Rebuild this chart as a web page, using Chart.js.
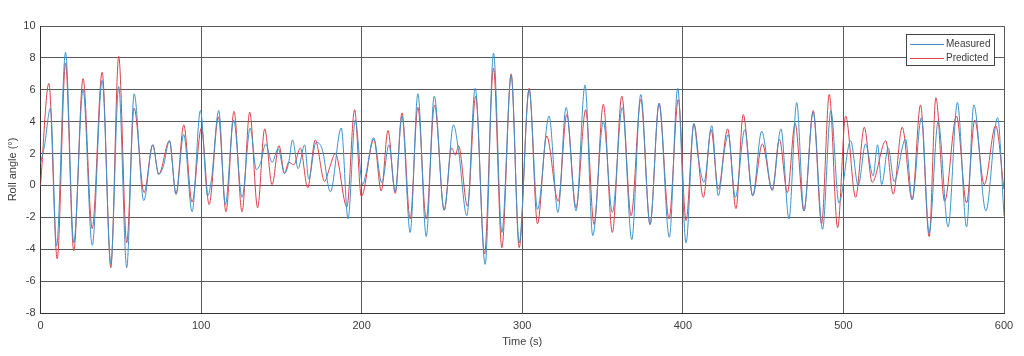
<!DOCTYPE html>
<html><head><meta charset="utf-8">
<script src="https://cdn.jsdelivr.net/npm/chart.js@4/dist/chart.umd.min.js"></script>
<style>html,body{margin:0;padding:0;background:#fff}#wrap{width:1024px;height:356px}</style>
</head><body><div id="wrap"><canvas id="c" width="1024" height="356"></canvas></div>
<script>
const seriesNames = ["Measured", "Predicted"];
const xTickValues = [0, 100, 200, 300, 400, 500, 600];
const yTickValues = [-8, -6, -4, -2, 0, 2, 4, 6, 8, 10];
const xTitle = "Time (s)";
const yTitle = "Roll angle (°)";

const measuredTime = [
  0, 2.5, 6.2, 10, 15.6, 20.7, 26.5, 32.2, 38.4, 43.8,
  48.7, 53.7, 58.3, 64.3, 69.9, 73.6, 76.5, 80.3, 84.4, 89.2,
  94.4, 99.6, 104.1, 106.5, 111, 115.1, 120.3, 125.5, 130.6, 134.4,
  137, 140.2, 144.2, 148, 152, 154.5, 157, 160.4, 164.5, 167,
  171.6, 175.5, 180.5, 187.3, 191.5, 196, 200.6, 202.8, 207.4, 212.6,
  217, 220.9, 225.1, 230.2, 235, 240.2, 245.2, 251.4, 257.2, 260.3,
  265.5, 270.7, 276.9, 282.1, 287.3, 293.1, 298.1, 304.3, 309.5, 316.7,
  322.2, 327.3, 333.5, 339.1, 343.9, 350.5, 356.1, 362.3, 368.2, 373.8,
  379.6, 385.2, 391.6, 396.8, 402, 406.9, 409.5, 413.2, 418, 422.1,
  425.8, 428.3, 432.7, 438.6, 443.5, 449.1, 455.7, 461.1, 466.1, 470.9,
  475.4, 481.2, 487, 492.2, 497.2, 504.5, 509.2, 513.8, 518.5, 521.3,
  523.8, 527.9, 531.6, 538.7, 542.8, 548.6, 553.4, 559, 565.2, 571,
  576.7, 581.2, 588.7, 596, 600
];
const measuredAngle = [
  1.4, 2.5, 4.85, -3.8, 8.35, -3.6, 6.0, -3.75, 6.6, -4.9,
  6.2, -5.15, 5.75, -0.95, 2.55, 0.7, 1.2, 2.8, -0.55, 3.2,
  -1.65, 4.7, -0.65, 0.4, 4.7, -1.2, 4.1, -0.75, 3.6, 1.0,
  1.4, 2.6, 1.45, 2.3, 0.75, 1.4, 2.85, 1.05, 2.55, 0.4,
  2.7, 2.25, -0.4, 3.6, -2.1, 4.1, 0.05, 0.8, 3.0, 0.15,
  2.55, -0.4, 4.35, -2.95, 5.75, -3.2, 5.6, -1.55, 3.8, 2.2,
  -1.9, 6.1, -4.95, 8.3, -2.95, 6.9, -3.6, 6.0, -1.5, 4.35,
  -1.7, 4.9, -1.6, 6.3, -3.15, 4.0, -1.7, 4.9, -3.4, 5.7,
  -2.45, 5.15, -3.25, 6.1, -3.6, 3.9, 1.8, 0.2, 3.75, -0.65,
  2.15, 3.2, -0.75, 3.5, -0.65, 3.4, -0.3, 3.55, -2.1, 5.2,
  -1.6, 4.6, -2.75, 4.7, -1.1, 2.8, 0.0, 2.6, 0.6, 2.55,
  0.05, 2.35, 0.25, 2.9, -0.9, 4.25, -3.0, 4.0, -2.6, 5.2,
  -2.6, 5.05, -1.6, 4.25, -1.9
];
const predictedTime = [
  0, 5.2, 10.4, 15.6, 20.7, 26.5, 32.2, 38.4, 43.8, 48.7,
  53.7, 58.3, 64.5, 69.9, 73.6, 80.3, 84.4, 89.2, 94.4, 100.2,
  105, 110.8, 115.5, 120.5, 125.5, 130.3, 135.2, 139.6, 144.2, 148.5,
  152, 154.5, 157.8, 161.8, 166.4, 171.1, 176.9, 180, 183.6, 190.8,
  195.6, 199.8, 207.6, 212.2, 216.4, 220.9, 225.1, 230.2, 235, 240.2,
  245.4, 251.4, 256, 258.4, 260.3, 265.9, 271, 276.5, 282.1, 287.3,
  293.1, 298.1, 304.3, 309.5, 315.2, 322.4, 327.7, 333.5, 339.5, 344.7,
  350.5, 356.1, 362, 367.8, 373.8, 379.6, 385.2, 391.4, 397.2, 402,
  406.9, 412.8, 417.6, 422.1, 427.9, 433.1, 437.6, 443.5, 449.5, 455.7,
  460.1, 465.1, 469.9, 475.4, 481.2, 486.4, 491.2, 496.4, 501.4, 507.6,
  513, 517.9, 526.4, 531, 536.6, 542.8, 548, 553.4, 557.6, 563,
  570.4, 576.7, 581.8, 587.7, 594.8, 600
];
const predictedAngle = [
  0, 6.4, -4.6, 7.67, -4.1, 6.7, -2.7, 7.1, -5.15, 8.1,
  -3.6, 4.85, -0.45, 2.55, 0.7, 2.8, -0.55, 3.8, -1.05, 3.6,
  -1.2, 4.3, -1.65, 4.65, -1.65, 4.6, -1.4, 3.55, 0.05, 2.5,
  0.75, 1.45, 1.3, 2.35, -0.15, 2.85, 0.25, 1.1, 2.0, -1.35,
  4.75, -0.7, 2.9, -0.35, 3.45, -0.5, 4.55, -2.1, 4.9, -2.1,
  5.05, -1.55, 2.35, 1.9, 2.5, -1.3, 5.6, -4.3, 7.35, -3.9,
  7.0, -3.9, 6.1, -2.4, 3.1, -1.0, 4.45, -1.4, 4.75, -2.45,
  5.1, -2.95, 5.6, -1.9, 5.4, -2.45, 5.15, -2.1, 5.4, -2.2,
  3.85, -0.75, 3.5, -0.25, 3.55, -1.45, 4.45, -0.65, 2.6, -0.3,
  2.9, -0.45, 3.9, -1.6, 4.7, -2.4, 5.7, -2.65, 4.35, -0.75,
  3.65, 0.2, 2.8, -0.55, 3.65, -0.9, 5.05, -3.2, 5.5, -1.0,
  4.35, -1.1, 4.1, 0.05, 3.75, -0.25
];

const BLUE = '#3f93c9';
const RED = '#d9434c';
const FONT = '"Liberation Sans", Arial, Helvetica, sans-serif';
const TEXT = '#3c3c3c';
const GRID = '#5a5a5a';

function pts(t, v) { return t.map((x, i) => ({ x: x, y: v[i] })); }

const boxLegend = {
  id: 'boxLegend',
  afterDraw(chart) {
    const ctx = chart.ctx;
    const x0 = 906.5, y0 = 34.5, w = 88, h = 31;
    ctx.save();
    ctx.fillStyle = '#fff';
    ctx.fillRect(x0, y0, w, h);
    ctx.strokeStyle = '#444';
    ctx.lineWidth = 1;
    ctx.strokeRect(x0, y0, w, h);
    const cols = [BLUE, RED];
    const rows = [44, 58];
    ctx.font = '10px ' + FONT;
    ctx.textBaseline = 'middle';
    ctx.textAlign = 'left';
    for (let i = 0; i < 2; i++) {
      ctx.strokeStyle = cols[i];
      ctx.beginPath();
      ctx.moveTo(910, rows[i] + 0.5);
      ctx.lineTo(944, rows[i] + 0.5);
      ctx.stroke();
      ctx.fillStyle = TEXT;
      ctx.fillText(seriesNames[i], 946, rows[i] + 0.5);
    }
    ctx.restore();
  }
};

new Chart(document.getElementById('c'), {
  type: 'line',
  data: {
    datasets: [
      { label: seriesNames[0], data: pts(measuredTime, measuredAngle), borderColor: BLUE, borderWidth: 1,
        pointRadius: 0, cubicInterpolationMode: 'monotone', fill: false },
      { label: seriesNames[1], data: pts(predictedTime, predictedAngle), borderColor: RED, borderWidth: 1,
        pointRadius: 0, cubicInterpolationMode: 'monotone', fill: false }
    ]
  },
  options: {
    responsive: false,
    devicePixelRatio: 1,
    animation: false,
    layout: { padding: { left: 0, right: 20, top: 26, bottom: 0 } },
    plugins: { legend: { display: false }, tooltip: { enabled: false } },
    scales: {
      x: {
        type: 'linear', min: 0, max: 600,
        afterBuildTicks(s) { s.ticks = xTickValues.map(v => ({ value: v })); },
        afterFit(s) { s.height = 43; },
        grid: { color: GRID, lineWidth: 1, drawTicks: false },
        border: { color: '#333', width: 1 },
        ticks: { padding: 6, color: TEXT, font: { family: FONT, size: 11 }, maxRotation: 0 },
        title: { display: true, text: xTitle, color: TEXT, font: { family: FONT, size: 11 }, padding: { top: 0, bottom: 7 } }
      },
      y: {
        type: 'linear', min: -8, max: 10,
        afterBuildTicks(s) { s.ticks = yTickValues.map(v => ({ value: v })); },
        afterFit(s) { s.width = 40.5; },
        grid: { color: GRID, lineWidth: 1, drawTicks: false },
        border: { color: '#333', width: 1 },
        ticks: { padding: 5, color: TEXT, font: { family: FONT, size: 11 } },
        title: { display: true, text: yTitle, color: TEXT, font: { family: FONT, size: 11 }, padding: { top: 6, bottom: 0 } }
      }
    }
  },
  plugins: [boxLegend]
});
</script>
</body></html>
